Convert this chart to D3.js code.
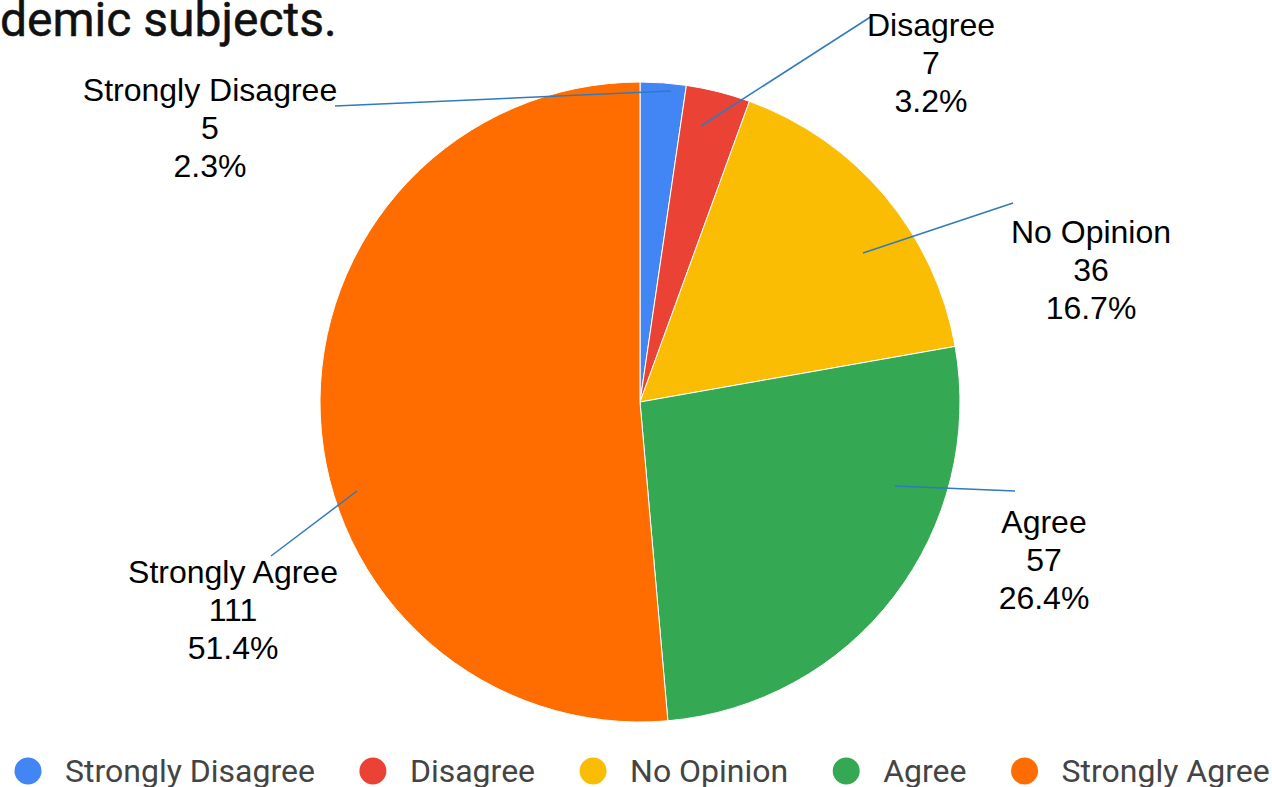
<!DOCTYPE html>
<html>
<head>
<meta charset="utf-8">
<script src="https://cdn.jsdelivr.net/npm/d3@7/dist/d3.min.js"></script>
<style>
  html, body { margin: 0; padding: 0; background: #fff; }
  svg { display: block; }
</style>
</head>
<body>
<svg id="chart" width="1272" height="787"></svg>
<script>
// ---- data ----
const titleText = "demic subjects.";
const categories = ["Strongly Disagree", "Disagree", "No Opinion", "Agree", "Strongly Agree"];
const counts = [5, 7, 36, 57, 111];
const percentLabels = ["2.3%", "3.2%", "16.7%", "26.4%", "51.4%"];
const colors = ["#4285F4", "#EA4335", "#FBBC04", "#34A853", "#FF6D01"];

// ---- label layout (annotation placement, relative to pie centre) ----
const labelLayout = [
  { tx: -430, ty: -301, inner: [31, -311], outer: [-305, -296] },
  { tx: 291,  ty: -366, inner: [61, -276], outer: [232, -386] },
  { tx: 451,  ty: -159, inner: [223, -149], outer: [373, -199] },
  { tx: 404,  ty: 131,  inner: [255, 84],  outer: [375, 89] },
  { tx: -407, ty: 181,  inner: [-283, 89], outer: [-369, 154] }
];

const cx = 640, cy = 402, R = 320;
const svg = d3.select("#chart");

// title (clipped at left edge in the reference)
svg.append("text")
  .attr("x", 0).attr("y", 36)
  .attr("font-family", "Roboto, sans-serif")
  .attr("font-size", 48)
  .attr("font-weight", 400)
  .attr("fill", "#111")
  .attr("stroke", "#111")
  .attr("stroke-width", 0.5)
  .text(titleText);

const pie = d3.pie().sort(null).value(d => d)(counts);
const arc = d3.arc().innerRadius(0).outerRadius(R);

const g = svg.append("g").attr("transform", `translate(${cx},${cy})`);
g.selectAll("path.slice").data(pie).join("path")
  .attr("class", "slice")
  .attr("d", arc)
  .attr("fill", (d, i) => colors[i])
  .attr("stroke", "#fff")
  .attr("stroke-width", 1);

// leader lines
g.selectAll("line.leader").data(labelLayout).join("line")
  .attr("class", "leader")
  .attr("x1", d => d.inner[0]).attr("y1", d => d.inner[1])
  .attr("x2", d => d.outer[0]).attr("y2", d => d.outer[1])
  .attr("stroke", "#2f7bbd")
  .attr("stroke-width", 1.5);

// labels
const lineH = 38;
const lab = g.selectAll("text.lab").data(pie).join("text")
  .attr("class", "lab")
  .attr("font-family", "'Liberation Sans', Arial, sans-serif")
  .attr("font-size", 32)
  .attr("fill", "#000")
  .attr("text-anchor", "middle");
lab.each(function(d, i) {
  const t = d3.select(this);
  const L = labelLayout[i];
  [categories[i], String(counts[i]), percentLabels[i]].forEach((s, k) => {
    t.append("tspan").attr("x", L.tx).attr("y", L.ty + k * lineH).text(s);
  });
});

// legend
const legendY = 771;
const leg = svg.append("g");
let x = 28;
categories.forEach((c, i) => {
  leg.append("circle").attr("cx", x).attr("cy", legendY).attr("r", 13.5).attr("fill", colors[i]);
  const t = leg.append("text")
    .attr("x", x + 37).attr("y", legendY + 11)
    .attr("font-family", "Roboto, sans-serif")
    .attr("font-size", 32)
    .attr("fill", "#444")
    .text(c);
  const w = t.node().getComputedTextLength();
  x = x + 37 + w + 58;
});
</script>
</body>
</html>
